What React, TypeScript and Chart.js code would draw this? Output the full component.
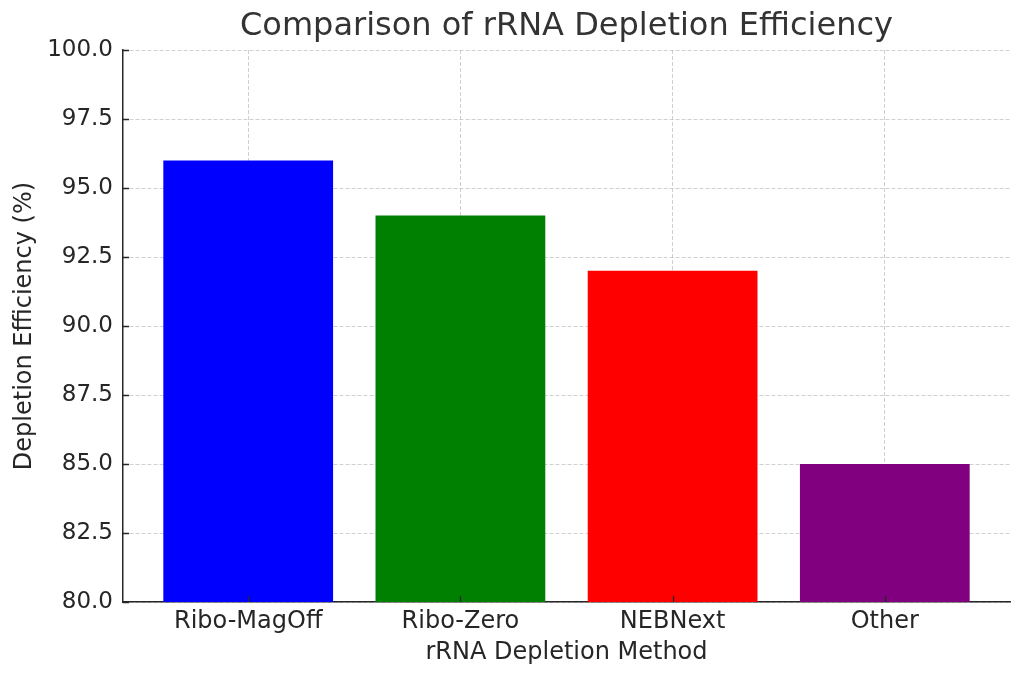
import { useEffect, useRef } from 'react';
import Chart from 'chart.js/auto';

const methods = ['Ribo-MagOff', 'Ribo-Zero', 'NEBNext', 'Other'];
const efficiency = [96, 94, 92, 85];
const barColors = ['#0000ff', '#008000', '#ff0000', '#800080'];
const yTicks = [80, 82.5, 85, 87.5, 90, 92.5, 95, 97.5, 100];

const FONT = "'DejaVu Sans', sans-serif";
const TEXT = '#262626';
const GRID = 'rgba(176,176,176,0.6)';

// matplotlib-style inward tick marks
const inwardTicks = {
  id: 'inwardTicks',
  afterDraw(chart: Chart) {
    const { ctx, chartArea } = chart;
    const x = chart.scales.x;
    const y = chart.scales.y;
    ctx.save();
    ctx.strokeStyle = TEXT;
    ctx.lineWidth = 1.3;
    ctx.beginPath();
    yTicks.forEach((v) => {
      const py = Math.round(y.getPixelForValue(v)) + 0.5;
      ctx.moveTo(chartArea.left, py);
      ctx.lineTo(chartArea.left + 6, py);
    });
    methods.forEach((_, i) => {
      const px = Math.round(x.getPixelForValue(i)) + 0.5;
      ctx.moveTo(px, chartArea.bottom);
      ctx.lineTo(px, chartArea.bottom - 6);
    });
    ctx.stroke();
    ctx.restore();
  },
};

const App = () => {
  const chartRef = useRef<HTMLCanvasElement>(null);
  const chartInstance = useRef<Chart | null>(null);

  useEffect(() => {
    if (!chartRef.current) return;
    if (chartInstance.current) chartInstance.current.destroy();
    const ctx = chartRef.current.getContext('2d');
    if (!ctx) return;

    chartInstance.current = new Chart(ctx, {
      type: 'bar',
      data: {
        datasets: [
          {
            data: efficiency.map((v, i) => ({ x: i, y: v })),
            backgroundColor: barColors,
            borderWidth: 0,
            categoryPercentage: 1,
            barPercentage: 0.8,
          },
        ],
      },
      options: {
        animation: false,
        responsive: true,
        maintainAspectRatio: false,
        layout: { padding: { left: 0, right: 14, top: 0, bottom: 0 } },
        plugins: {
          legend: { display: false },
          tooltip: { enabled: false },
          title: {
            display: true,
            fullSize: false,
            text: 'Comparison of rRNA Depletion Efficiency',
            color: '#333333',
            font: { family: FONT, size: 32, weight: 'normal', lineHeight: 1.2 },
            padding: { top: 7, bottom: 4.6 },
          },
        },
        scales: {
          x: {
            type: 'linear',
            min: -0.59,
            max: 3.59,
            offset: false,
            z: 1,
            afterBuildTicks: (scale: any) => {
              scale.ticks = methods.map((_, i) => ({ value: i }));
            },
            afterFit: (scale: any) => {
              scale.height = 77;
            },
            ticks: {
              autoSkip: false,
              maxRotation: 0,
              padding: 5,
              color: TEXT,
              font: { family: FONT, size: 24 },
              callback: (v: any) => methods[v] ?? '',
            },
            grid: { drawTicks: false, offset: false, color: GRID, lineWidth: 1 },
            border: { display: true, color: TEXT, width: 1.5, dash: [4, 2] },
            title: {
              display: true,
              text: 'rRNA Depletion Method',
              color: TEXT,
              font: { family: FONT, size: 24, lineHeight: 1.2 },
              padding: { top: 0, bottom: 12 },
            },
          },
          y: {
            min: 80,
            max: 100,
            z: 1,
            afterBuildTicks: (scale: any) => {
              scale.ticks = yTicks.map((v) => ({ value: v }));
            },
            afterFit: (scale: any) => {
              scale.width = 123;
            },
            ticks: {
              padding: 10,
              color: TEXT,
              font: { family: FONT, size: 23 },
              callback: (v: any) => Number(v).toFixed(1),
            },
            grid: { drawTicks: false, color: GRID, lineWidth: 1 },
            border: { display: true, color: TEXT, width: 1.5, dash: [4, 2] },
            title: {
              display: true,
              text: 'Depletion Efficiency (%)',
              color: TEXT,
              font: { family: FONT, size: 24, lineHeight: 1.2 },
              padding: { top: 10, bottom: 0 },
            },
          },
        },
      },
      plugins: [inwardTicks],
    });

    return () => {
      if (chartInstance.current) {
        chartInstance.current.destroy();
        chartInstance.current = null;
      }
    };
  }, []);

  return (
    <div style={{ position: 'fixed', left: 0, top: 0, width: 1024, height: 679, background: '#fff' }}>
      <canvas ref={chartRef} />
    </div>
  );
};

export default App;
